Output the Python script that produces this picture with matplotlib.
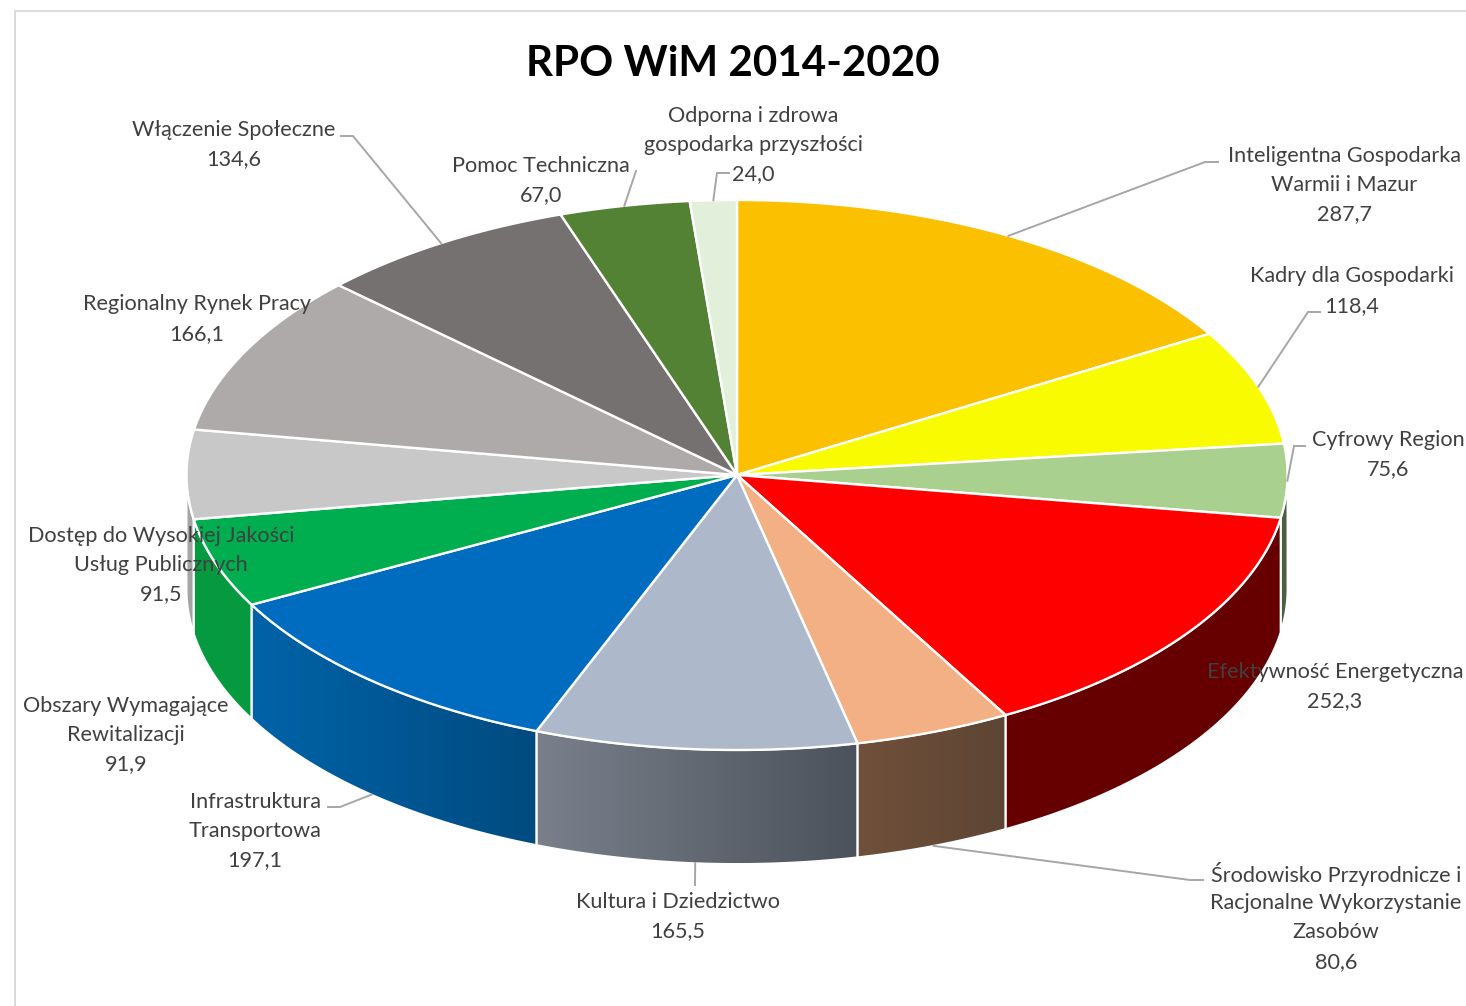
import matplotlib
matplotlib.use('Agg')
import matplotlib.pyplot as plt
from matplotlib.patches import Polygon
import numpy as np

plt.rcParams['font.family'] = ['Lato', 'DejaVu Sans']

# data, clockwise from 12 o'clock
names = ['Inteligentna Gospodarka\nWarmii i Mazur', 'Kadry dla Gospodarki', 'Cyfrowy Region',
         'Efektywność Energetyczna', 'Środowisko Przyrodnicze i\nRacjonalne Wykorzystanie\nZasobów',
         'Kultura i Dziedzictwo', 'Infrastruktura\nTransportowa', 'Obszary Wymagające\nRewitalizacji',
         'Dostęp do Wysokiej Jakości\nUsług Publicznych', 'Regionalny Rynek Pracy',
         'Włączenie Społeczne', 'Pomoc Techniczna', 'Odporna i zdrowa\ngospodarka przyszłości']
values = [287.7, 118.4, 75.6, 252.3, 80.6, 165.5, 197.1, 91.9, 91.5, 166.1, 134.6, 67.0, 24.0]

top_colors = ['#FBC000', '#F9FB00', '#A9D08E', '#FF0000', '#F2B084', '#ADB9CA', '#006CBF',
              '#00AE4F', '#C8C8C8', '#AEAAAA', '#767171', '#548235', '#E2EFDA']
wall_left = ['#A07A00', '#A0A000', '#4A5F41', '#660000', '#70503A', '#7A808B', '#0063A8',
             '#069A40', '#A8A8A8', '#808080', '#505050', '#3A5A25', '#A0A8A0']
wall_right = ['#A07A00', '#A0A000', '#4A5F41', '#660000', '#5D4534', '#4B525B', '#004B80',
              '#069A40', '#A0A0A0', '#808080', '#505050', '#3A5A25', '#A0A8A0']

# layout, in pixels of the picture
cx, cy, rx, ry, depth = 737, 475, 550.5, 275, 114
label_pos = [(1344, 155), (1352, 276), (1388, 439), (1335, 671), (1336, 873), (678, 901), (255, 801),
             (126, 705), (161, 535), (197, 304), (234, 129), (541, 165), (753, 115)]
line_gap = 29.5
# leader: points next to the label, the last point comes from the slice itself
leaders = {0: [(1218, 162), (1205, 162)],
           1: [(1320, 312), (1308, 312)],
           2: [(1305, 446), (1294, 446)],
           4: [(1203, 880), (1190, 880)],
           5: [(695, 885)],
           6: [(328, 807), (340, 807)],
           10: [(341, 136), (353, 136)],
           11: [(636, 171)],
           12: [(729, 173), (717, 173)]}


def ellipse_xy(t, dy=0):
    t = np.radians(t)
    return cx + rx * np.sin(t), cy - ry * np.cos(t) + dy


def hex_rgb(h):
    return np.array(matplotlib.colors.to_rgb(h))


fig = plt.figure(figsize=(14.66, 10.06), dpi=100)
ax = fig.add_axes([0, 0, 1, 1])
ax.set_axis_off()

edges = np.concatenate([[0], np.cumsum(values)]) / sum(values) * 360

# outer walls first
for i in range(len(values)):
    a = max(edges[i], 90)
    b = min(edges[i + 1], 270)
    if b <= a:
        continue
    t = np.linspace(a, b, 120)
    x, y = ellipse_xy(t)
    pts = np.vstack([np.column_stack([x, y]), np.column_stack([x[::-1], y[::-1] + depth])])
    grad = np.linspace(hex_rgb(wall_left[i]), hex_rgb(wall_right[i]), 256)[None, :, :]
    # x runs right to left with t on the lower half, the gradient is by screen x
    im = ax.imshow(grad, extent=(x.min(), x.max(), y.max() + depth, y.min()),
                   aspect='auto', interpolation='bilinear', zorder=1)
    im.set_clip_path(Polygon(pts, closed=True, transform=ax.transData))
    ax.add_patch(Polygon(pts, closed=True, fill=False, ec='white', lw=1.4, zorder=2))

# top face
for i in range(len(values)):
    t = np.linspace(edges[i], edges[i + 1], 200)
    x, y = ellipse_xy(t)
    pts = np.vstack([[cx, cy], np.column_stack([x, y])])
    ax.add_patch(Polygon(pts, closed=True, fc=top_colors[i], ec='white', lw=1.7,
                         joinstyle='round', zorder=3))

# leader lines
for i, pts in leaders.items():
    mid = (edges[i] + edges[i + 1]) / 2
    lower = 90 < mid < 270 and i != 2
    end = ellipse_xy(mid, depth if lower else 0)
    xs = [p[0] for p in pts] + [end[0]]
    ys = [p[1] for p in pts] + [end[1]]
    ax.plot(xs, ys, color='#A6A6A6', lw=1.4, zorder=4, solid_joinstyle='miter')

# labels
for i, name in enumerate(names):
    lines = name.split('\n') + [f'{values[i]:.1f}'.replace('.', ',')]
    for k, line in enumerate(lines):
        ax.text(label_pos[i][0], label_pos[i][1] + 0.5 + k * line_gap, line, ha='center', va='center',
                fontsize=15.6, color='#404040', zorder=5)

ax.text(733, 64, 'RPO WiM 2014-2020', ha='center', va='center', fontsize=30.3, fontweight='bold',
        color='black', zorder=5)

# chart area border, cut by the picture on the right and at the bottom
ax.plot([14.5, 14.5, 1466], [1006, 10.5, 10.5], color='#D9D9D9', lw=1.4, zorder=0)

ax.set_xlim(0, 1466)
ax.set_ylim(1006, 0)
fig.savefig('out.png', dpi=100)
